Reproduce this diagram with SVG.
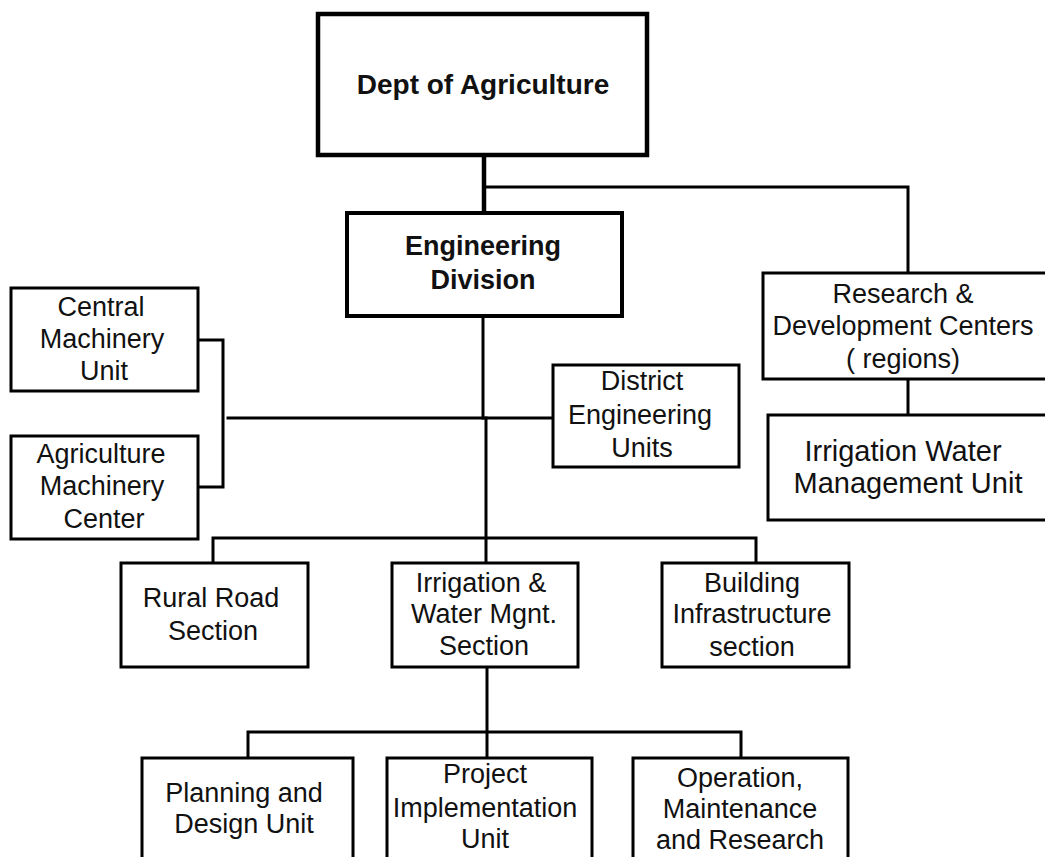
<svg xmlns="http://www.w3.org/2000/svg" width="1045" height="857" viewBox="0 0 1045 857">
<style>
.box{fill:#fff;stroke:#000;stroke-width:3}
.thick{stroke-width:4.5}
.t{font-family:"Liberation Sans",Arial,sans-serif;font-size:27px;fill:#111;text-anchor:middle}
.b{font-weight:bold}
.ln{fill:none;stroke:#000;stroke-width:3;stroke-linecap:square}
</style>
<rect width="1045" height="857" fill="#fff"/>
<g id="connectors">
<path class="ln" d="M484 155 V212" style="stroke-width:4.5"/>
<path class="ln" d="M484 187 H908 V273"/>
<path class="ln" d="M483 316 V418"/>
<path class="ln" d="M486 418 V563"/>
<path class="ln" d="M228 418 H553"/>
<path class="ln" d="M198 340 H223 V487 H198"/>
<path class="ln" d="M213 563 V538 H756 V563"/>
<path class="ln" d="M908 379 V415"/>
<path class="ln" d="M487 667 V758"/>
<path class="ln" d="M248 758 V732 H741 V758"/>
</g>
<g id="dept">
<rect class="box thick" x="318" y="14" width="329" height="141"/>
<text class="t b" x="483" y="94" style="font-size:28px">Dept of Agriculture</text>
</g>
<g id="engineering">
<rect class="box thick" x="347" y="213" width="275" height="103" style="stroke-width:4"/>
<text class="t b" x="483" y="255">Engineering</text>
<text class="t b" x="483" y="289">Division</text>
</g>
<g id="rd">
<rect class="box" x="763" y="273" width="290" height="106"/>
<text class="t" x="903" y="303">Research &amp;</text>
<text class="t" x="903" y="335">Development Centers</text>
<text class="t" x="903" y="368">( regions)</text>
</g>
<g id="iwmu">
<rect class="box" x="768" y="415" width="290" height="105"/>
<text class="t" x="903" y="461" style="font-size:29px">Irrigation Water</text>
<text class="t" x="908" y="493" style="font-size:29px">Management Unit</text>
</g>
<g id="cmu">
<rect class="box" x="11" y="288" width="187" height="103"/>
<text class="t" x="101" y="316">Central</text>
<text class="t" x="102" y="348">Machinery</text>
<text class="t" x="104" y="380">Unit</text>
</g>
<g id="amc">
<rect class="box" x="11" y="436" width="187" height="103"/>
<text class="t" x="101" y="463">Agriculture</text>
<text class="t" x="102" y="495">Machinery</text>
<text class="t" x="104" y="528">Center</text>
</g>
<g id="district">
<rect class="box" x="553" y="365" width="186" height="102"/>
<text class="t" x="642" y="390">District</text>
<text class="t" x="640" y="424">Engineering</text>
<text class="t" x="642" y="457">Units</text>
</g>
<g id="rural">
<rect class="box" x="121" y="563" width="187" height="104"/>
<text class="t" x="211" y="607">Rural Road</text>
<text class="t" x="213" y="640">Section</text>
</g>
<g id="irrigation">
<rect class="box" x="392" y="563" width="186" height="104"/>
<text class="t" x="481" y="592">Irrigation &amp;</text>
<text class="t" x="484" y="623">Water Mgnt.</text>
<text class="t" x="484" y="655">Section</text>
</g>
<g id="building">
<rect class="box" x="662" y="563" width="187" height="104"/>
<text class="t" x="752" y="592">Building</text>
<text class="t" x="752" y="623">Infrastructure</text>
<text class="t" x="752" y="656">section</text>
</g>
<g id="planning">
<rect class="box" x="142" y="758" width="211" height="110"/>
<text class="t" x="244" y="802">Planning and</text>
<text class="t" x="244" y="833">Design Unit</text>
</g>
<g id="project">
<rect class="box" x="387" y="758" width="205" height="110"/>
<text class="t" x="485" y="783">Project</text>
<text class="t" x="485" y="817">Implementation</text>
<text class="t" x="485" y="848">Unit</text>
</g>
<g id="operation">
<rect class="box" x="633" y="758" width="215" height="110"/>
<text class="t" x="740" y="787">Operation,</text>
<text class="t" x="740" y="818">Maintenance</text>
<text class="t" x="740" y="849">and Research</text>
</g>
</svg>
